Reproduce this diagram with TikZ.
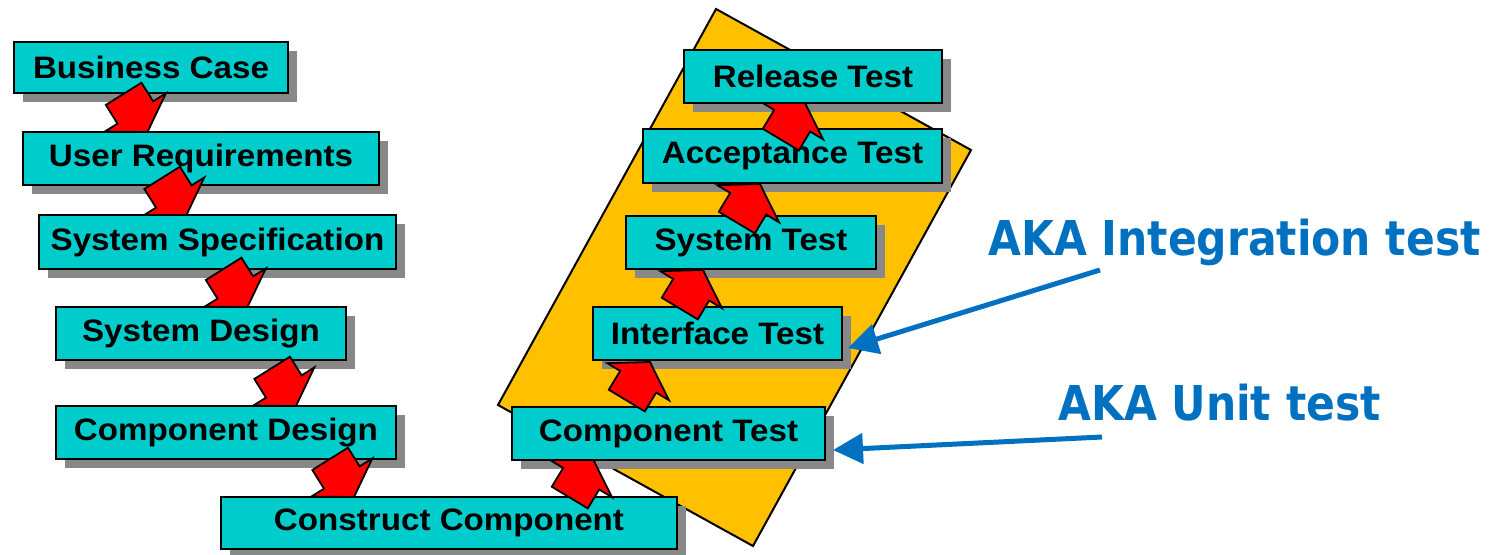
\documentclass[tikz,border=0pt]{standalone}
\usepackage{fontspec}
\setmainfont{Liberation Sans}
\newfontfamily\boxfont[FakeStretch=1.07]{Liberation Sans}
\newfontfamily\akafont[FakeStretch=0.885]{DejaVu Sans}
\usetikzlibrary{arrows.meta,calc}
\definecolor{boxcyan}{RGB}{0,204,204}
\definecolor{panelgold}{RGB}{255,192,0}
\definecolor{akablue}{RGB}{0,112,192}
\definecolor{shadowgray}{RGB}{136,136,136}
\pgfdeclarelayer{bg}
\pgfdeclarelayer{shadowlayer}
\pgfsetlayers{bg,shadowlayer,main}
\newcommand\dropshade[1]{%
  \begin{pgfonlayer}{shadowlayer}
    \fill[shadowgray] ($(#1.north west)+(9,9)$) rectangle ($(#1.south east)+(9,9)$);
  \end{pgfonlayer}}
\begin{document}
\begin{tikzpicture}[x=1pt,y=-1pt,
  stage/.style={draw=black, line width=2.4pt, fill=boxcyan, anchor=north west,
    inner sep=0pt, outer sep=0pt, text=black,
    font=\boxfont\bfseries\fontsize{31}{34}\selectfont},
  redarrow/.pic={\filldraw[fill=red, draw=black, line width=1.8pt, line join=miter]
    (0,0) -- (-23,36) -- (-23,21) -- (-45,21) -- (-45,-21) -- (-23,-21) -- (-23,-36) -- cycle;},
  down/.style={rotate=-58},
  up/.style={rotate=59},
  akatext/.style={text=akablue, font=\akafont\bfseries\fontsize{48}{54}\selectfont,
    anchor=base west, inner sep=0pt},
  akaarrow/.style={draw=akablue, line width=5pt, -{Triangle[length=30pt,width=30pt]}}]
\useasboundingbox (0,0) rectangle (1501,554);

\begin{pgfonlayer}{bg}
  \filldraw[fill=panelgold, draw=black, line width=2pt, line join=miter]
    (716,9) -- (971,150) -- (753,546) -- (498,405) -- cycle;
\end{pgfonlayer}

% descending branch
\node[stage, minimum width=274, minimum height=51] (bc) at (14,42) {Business Case};
\dropshade{bc}
\pic[down] at (147.5,132) {redarrow};
\node[stage, minimum width=356, minimum height=53] (ur) at (23,132) {User Requirements};
\dropshade{ur}
\pic[down] at (186,216) {redarrow};
\node[stage, minimum width=357, minimum height=54] (ss) at (39,215) {System Specification};
\dropshade{ss}
\pic[down] at (247.5,307) {redarrow};
\node[stage, minimum width=290, minimum height=53] (sd) at (56,307) {System Design};
\dropshade{sd}
\pic[down] at (296,406) {redarrow};
\node[stage, minimum width=340, minimum height=53] (cd) at (56,406) {Component Design};
\dropshade{cd}
\pic[down] at (354,497) {redarrow};
\node[stage, minimum width=456, minimum height=52] (cc) at (221,497) {Construct Component};
\dropshade{cc}

% ascending branch
\pic[up] at (593,459) {redarrow};
\node[stage, minimum width=313, minimum height=53] (ct) at (512,407) {Component Test};
\dropshade{ct}
\pic[up] at (650,362) {redarrow};
\node[stage, minimum width=249, minimum height=53] (it) at (593,307) {Interface Test};
\dropshade{it}
\pic[up] at (703,270) {redarrow};
\node[stage, minimum width=250, minimum height=53] (st) at (626,216) {System Test};
\dropshade{st}
\pic[up] at (760,184) {redarrow};
\node[stage, minimum width=299, minimum height=54] (at) at (643,129) {Acceptance Test};
\dropshade{at}
\pic[up] at (804,101) {redarrow};
\node[stage, minimum width=258, minimum height=53] (rt) at (684,50) {Release Test};
\dropshade{rt}

% annotations
\node[akatext] (lint) at (988,255) {AKA Integration test};
\node[akatext] (lunit) at (1058,420) {AKA Unit test};
\coordinate (k1) at (1100,270);
\coordinate (t1) at (848,348);
\coordinate (k2) at (1102,437);
\coordinate (t2) at (833,450);
\draw[akaarrow] (k1) -- (t1);
\draw[akaarrow] (k2) -- (t2);
\end{tikzpicture}
\end{document}
